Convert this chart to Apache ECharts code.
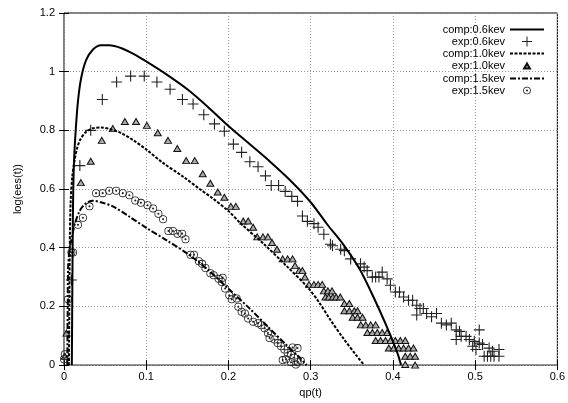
<!DOCTYPE html>
<html>
<head>
<meta charset="utf-8">
<script src="https://cdn.jsdelivr.net/npm/echarts@6/dist/echarts.min.js"></script>
<style>
  html, body { margin: 0; padding: 0; background: #fff; }
  #chart { width: 568px; height: 403px; }
</style>
</head>
<body>
<div id="chart"></div>
<script>
// computed curves, [qp, log(ees)]
const comp06 = [[0.0095,0],[0.010,0.2],[0.0105,0.4],[0.011,0.55],[0.012,0.68],[0.014,0.79],[0.017,0.9],[0.021,0.98],
  [0.027,1.04],[0.035,1.075],[0.045,1.09],[0.055,1.09],[0.07,1.08],[0.085,1.06],[0.1,1.035],[0.125,0.99],[0.15,0.94],
  [0.175,0.88],[0.2,0.815],[0.225,0.755],[0.25,0.695],[0.275,0.63],[0.3,0.555],[0.32,0.48],[0.34,0.41],[0.36,0.325],
  [0.38,0.21],[0.395,0.115],[0.405,0.045],[0.41,0]]
const comp10 = [[0.006,0],[0.0065,0.2],[0.007,0.4],[0.008,0.55],[0.01,0.64],[0.013,0.7],[0.016,0.74],[0.02,0.77],
  [0.027,0.795],[0.035,0.807],[0.045,0.81],[0.055,0.805],[0.07,0.79],[0.085,0.765],[0.1,0.735],[0.12,0.69],[0.146,0.64],
  [0.165,0.6],[0.18,0.57],[0.2,0.525],[0.216,0.48],[0.244,0.41],[0.272,0.334],[0.296,0.266],[0.31,0.215],[0.324,0.154],
  [0.34,0.09],[0.355,0.035],[0.365,0]]
const comp15 = [[0.004,0],[0.0045,0.2],[0.005,0.33],[0.007,0.4],[0.01,0.44],[0.013,0.48],[0.019,0.525],[0.026,0.55],
  [0.035,0.56],[0.045,0.555],[0.06,0.54],[0.08,0.505],[0.1,0.468],[0.125,0.425],[0.15,0.38],[0.175,0.325],[0.2,0.26],
  [0.225,0.195],[0.25,0.125],[0.27,0.07],[0.285,0.03],[0.295,0]]

// measured points
const exp06 = [[0.009,0.29],[0.0193,0.68],[0.0325,0.8],[0.0466,0.905],[0.064,0.965],[0.081,0.985],[0.0976,0.985],
  [0.113,0.965],[0.129,0.94],[0.144,0.905],[0.157,0.89],[0.17,0.853],[0.183,0.822],[0.195,0.797],[0.206,0.753],
  [0.216,0.725],[0.226,0.693],[0.236,0.676],[0.245,0.645],[0.252,0.612],[0.261,0.612],[0.269,0.592],[0.277,0.575],
  [0.284,0.558],[0.29,0.508],[0.296,0.49],[0.304,0.482],[0.309,0.47],[0.316,0.446],[0.324,0.412],[0.3265,0.407],
  [0.3365,0.395],[0.341,0.39],[0.3486,0.362],[0.3606,0.345],[0.365,0.334],[0.3687,0.322],[0.375,0.3],[0.379,0.3],
  [0.383,0.3],[0.387,0.317],[0.393,0.294],[0.397,0.272],[0.403,0.249],[0.408,0.249],[0.413,0.232],[0.419,0.221],
  [0.424,0.221],[0.429,0.204],[0.433,0.193],[0.437,0.193],[0.441,0.176],[0.429,0.171],[0.447,0.165],[0.453,0.176],
  [0.459,0.143],[0.465,0.137],[0.471,0.143],[0.477,0.12],[0.481,0.115],[0.483,0.098],[0.477,0.087],[0.489,0.098],
  [0.493,0.087],[0.499,0.081],[0.505,0.12],[0.505,0.075],[0.509,0.07],[0.501,0.053],[0.517,0.058],[0.521,0.047],
  [0.523,0.03],[0.529,0.03],[0.515,0.03],[0.497,0.064],[0.529,0.053],[0.511,0.03],[0.519,0.03]]
const exp10 = [[0.001,0.03],[0.003,0.109],[0.0205,0.622],[0.0325,0.695],[0.046,0.766],[0.0594,0.806],[0.074,0.83],
  [0.0876,0.83],[0.1008,0.817],[0.114,0.792],[0.1265,0.766],[0.1378,0.738],[0.1486,0.697],[0.159,0.697],[0.1687,0.652],
  [0.178,0.62],[0.187,0.59],[0.195,0.572],[0.203,0.541],[0.209,0.541],[0.218,0.491],[0.224,0.491],[0.23,0.47],
  [0.235,0.437],[0.242,0.437],[0.248,0.437],[0.253,0.418],[0.259,0.395],[0.266,0.362],[0.272,0.362],[0.278,0.362],
  [0.281,0.339],[0.286,0.322],[0.29,0.322],[0.293,0.3],[0.298,0.275],[0.304,0.275],[0.309,0.275],[0.314,0.275],
  [0.316,0.253],[0.321,0.253],[0.326,0.253],[0.318,0.232],[0.322,0.232],[0.327,0.232],[0.331,0.232],[0.336,0.232],
  [0.341,0.21],[0.347,0.21],[0.341,0.185],[0.347,0.185],[0.353,0.185],[0.357,0.185],[0.351,0.163],[0.357,0.163],
  [0.363,0.163],[0.361,0.137],[0.367,0.137],[0.373,0.137],[0.379,0.137],[0.369,0.111],[0.375,0.111],[0.381,0.111],
  [0.387,0.111],[0.393,0.111],[0.379,0.084],[0.385,0.084],[0.391,0.084],[0.397,0.084],[0.403,0.084],[0.409,0.084],
  [0.415,0.084],[0.395,0.058],[0.401,0.058],[0.407,0.058],[0.413,0.058],[0.419,0.058],[0.425,0.058],[0.415,0.03],
  [0.421,0.03],[0.427,0.03],[0.415,0.002],[0.427,0]]
const exp15 = [[0.001,0.037],[0.0,0.02],[0.005,0.224],[0.009,0.384],[0.011,0.384],[0.017,0.478],[0.023,0.502],
  [0.031,0.541],[0.039,0.586],[0.047,0.586],[0.055,0.594],[0.0635,0.594],[0.0715,0.586],[0.0795,0.579],[0.0867,0.561],
  [0.0936,0.553],[0.1016,0.545],[0.1084,0.534],[0.1148,0.516],[0.1205,0.497],[0.127,0.457],[0.1325,0.457],[0.138,0.448],
  [0.1437,0.448],[0.1478,0.429],[0.1538,0.376],[0.158,0.376],[0.164,0.354],[0.168,0.345],[0.172,0.331],[0.178,0.313],
  [0.182,0.306],[0.188,0.294],[0.193,0.298],[0.192,0.283],[0.196,0.261],[0.201,0.238],[0.204,0.224],[0.21,0.227],
  [0.212,0.199],[0.216,0.182],[0.22,0.176],[0.224,0.159],[0.23,0.148],[0.236,0.143],[0.24,0.136],[0.244,0.126],
  [0.248,0.109],[0.25,0.092],[0.256,0.087],[0.26,0.075],[0.264,0.064],[0.268,0.053],[0.272,0.041],[0.276,0.035],
  [0.28,0.025],[0.266,0.017],[0.282,0.002],[0.284,0.058],[0.278,0.06],[0.284,0.01],[0.288,0.015],[0.276,0.01],[0.27,0.02]]

const seriesNames = ['comp:0.6kev', 'exp:0.6kev', 'comp:1.0kev', 'exp:1.0kev', 'comp:1.5kev', 'exp:1.5kev']

const FONT = '"Liberation Sans", Arial, sans-serif'
const plusPath = 'path://M-5,-0.5L5,-0.5L5,0.5L-5,0.5Z M-0.5,-5L0.5,-5L0.5,5L-0.5,5Z'
const ringPath = 'path://M0,-5A5,5 0 1,1 0,5A5,5 0 1,1 0,-5Z M0,-4A4,4 0 1,0 0,4A4,4 0 1,0 0,-4Z M0,-1.3A1.3,1.3 0 1,1 0,1.3A1.3,1.3 0 1,1 0,-1.3Z'
const triPath = 'path://M0,-3L3.5,3L-3.5,3Z'
// legend versions padded with empty moves so they come out smaller
const triLegend = 'path://M-6,-6M6,6M0,-3L3.5,3L-3.5,3Z'
const ringLegend = 'path://M-6.5,-6.5M6.5,6.5M0,-5A5,5 0 1,1 0,5A5,5 0 1,1 0,-5Z M0,-4A4,4 0 1,0 0,4A4,4 0 1,0 0,-4Z M0,-1.3A1.3,1.3 0 1,1 0,1.3A1.3,1.3 0 1,1 0,-1.3Z'

const chart = echarts.init(document.getElementById('chart'))

const xAxisBase = {
  type: 'value', min: 0, max: 0.6, interval: 0.1,
  axisLine: { show: false },
  axisTick: { show: true, inside: true, length: 5, lineStyle: { color: '#000' } }
}
const yAxisBase = {
  type: 'value', min: 0, max: 1.2, interval: 0.2,
  axisLine: { show: false },
  axisTick: { show: true, inside: true, length: 5, lineStyle: { color: '#000' } }
}

const lineSeries = (name, data, type) => ({
  name, type: 'line', data, smooth: 0.3, symbol: 'none',
  lineStyle: { color: '#000', width: 2, type },
  itemStyle: { color: '#000' },
  animation: false, z: 3
})

// hide the dot ECharts puts on line legend icons
const noDot = { color: 'rgba(0,0,0,0)', borderColor: 'rgba(0,0,0,0)', borderWidth: 0 }

const option = {
  animation: false,
  textStyle: { fontFamily: FONT },
  grid: { left: 64, right: 6, top: 13, bottom: 34, show: true, borderColor: '#000', borderWidth: 1 },
  legend: {
    data: [
      { name: seriesNames[0], itemStyle: noDot },
      { name: seriesNames[1] },
      { name: seriesNames[2], itemStyle: noDot },
      { name: seriesNames[3], icon: triLegend },
      { name: seriesNames[4], itemStyle: noDot },
      { name: seriesNames[5], icon: ringLegend }
    ],
    orient: 'vertical', align: 'right', right: 18, top: 19,
    itemWidth: 34, itemHeight: 10, itemGap: 1,
    textStyle: { fontFamily: FONT, fontSize: 11, color: '#000' },
    selectedMode: false
  },
  xAxis: [
    Object.assign({}, xAxisBase, {
      name: 'qp(t)', nameLocation: 'middle', nameGap: 14,
      nameTextStyle: { fontFamily: FONT, fontSize: 11, color: '#000' },
      axisLabel: { fontFamily: FONT, fontSize: 11, color: '#000', margin: 6 },
      splitLine: { show: true, lineStyle: { color: '#999', type: [1, 2], width: 1 } }
    }),
    Object.assign({}, xAxisBase, { position: 'top', axisLabel: { show: false }, splitLine: { show: false } })
  ],
  yAxis: [
    Object.assign({}, yAxisBase, {
      name: 'log(ees(t))', nameLocation: 'middle', nameGap: 41,
      nameTextStyle: { fontFamily: FONT, fontSize: 11, color: '#000' },
      axisLabel: { fontFamily: FONT, fontSize: 11, color: '#000', margin: 9 },
      splitLine: { show: true, lineStyle: { color: '#999', type: [1, 2], width: 1 } }
    }),
    Object.assign({}, yAxisBase, { position: 'right', axisLabel: { show: false }, splitLine: { show: false } })
  ],
  series: [
    lineSeries('comp:0.6kev', comp06, 'solid'),
    {
      name: 'exp:0.6kev', type: 'scatter', data: exp06,
      symbol: plusPath, symbolSize: 11,
      itemStyle: { color: '#222', opacity: 1 }, z: 2
    },
    lineSeries('comp:1.0kev', comp10, [3, 1.5]),
    {
      name: 'exp:1.0kev', type: 'scatter', data: exp10,
      symbol: triPath, symbolSize: [7, 6],
      itemStyle: { color: '#aaa', borderColor: '#111', borderWidth: 1, opacity: 1 }, z: 2
    },
    lineSeries('comp:1.5kev', comp15, [6, 2, 2, 2]),
    {
      name: 'exp:1.5kev', type: 'scatter', data: exp15,
      symbol: ringPath, symbolSize: 8,
      itemStyle: { color: '#222', opacity: 1 }, z: 2
    }
  ]
}

chart.setOption(option)
</script>
</body>
</html>
